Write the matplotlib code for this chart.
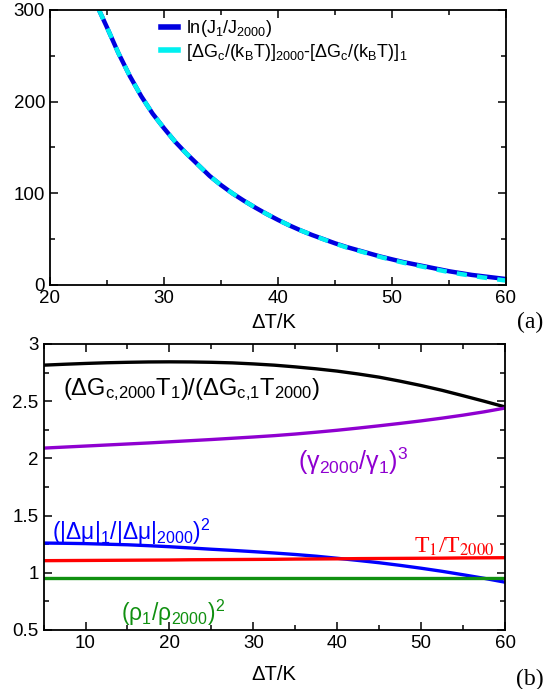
import numpy as np
import matplotlib
matplotlib.use('Agg')
import matplotlib.pyplot as plt
from matplotlib.lines import Line2D
from matplotlib.ticker import MultipleLocator

plt.rcParams['font.family'] = ['Liberation Sans', 'DejaVu Sans']
plt.rcParams['mathtext.fontset'] = 'custom'
plt.rcParams['mathtext.rm'] = 'Liberation Sans'
plt.rcParams['mathtext.it'] = 'Liberation Sans:italic'
plt.rcParams['mathtext.default'] = 'rm'

# panel (a): ln(J1/J2000) and free-energy difference vs undercooling
dT_a = [24.3, 25, 26, 27, 28, 29, 30, 31, 32, 33, 34, 35, 36, 37, 38, 39, 40,
        41, 42, 43, 44, 45, 46, 47, 48, 49, 50, 51, 52, 53, 54, 55, 56, 57, 58, 59, 60]
lnJ = [300, 281, 253, 228, 206, 187, 171, 156, 143, 131, 119, 109, 100, 92, 84.5, 77.5, 71,
       65, 59.5, 54.5, 50, 45.5, 41.5, 38, 34.5, 31, 28, 25, 22.5, 20, 17.5, 15, 13, 11, 9.5, 8, 6.5]
dG_diff = [300, 281, 253, 228, 206, 187, 171, 156, 143, 131, 119, 109, 100, 92, 84.5, 77.5, 71,
           65, 59.5, 54.5, 49.8, 45.2, 41, 37.5, 34, 30.5, 27.3, 24.3, 21.7, 19.2, 16.6, 14.1, 12, 10, 8.2, 6.5, 4.8]

# panel (b): ratios vs undercooling
dT_b = [5, 7.5, 10, 12.5, 15, 17.5, 20, 22.5, 25, 27.5, 30, 32.5, 35, 37.5, 40,
        42.5, 45, 47.5, 50, 52.5, 55, 57.5, 60]
ratio_G = [2.815, 2.823, 2.83, 2.836, 2.84, 2.843, 2.844, 2.843, 2.84, 2.835, 2.826, 2.815,
           2.80, 2.783, 2.763, 2.738, 2.71, 2.675, 2.637, 2.595, 2.548, 2.50, 2.45]
ratio_gamma = [2.09, 2.099, 2.108, 2.117, 2.126, 2.135, 2.145, 2.155, 2.165, 2.176, 2.187, 2.199,
               2.213, 2.229, 2.246, 2.265, 2.285, 2.306, 2.328, 2.352, 2.378, 2.407, 2.44]
ratio_mu = [1.26, 1.258, 1.255, 1.25, 1.245, 1.237, 1.228, 1.217, 1.206, 1.196, 1.185, 1.173,
            1.16, 1.145, 1.127, 1.108, 1.088, 1.065, 1.04, 1.013, 0.983, 0.952, 0.918]
ratio_T = [1.106, 1.107, 1.108, 1.109, 1.11, 1.111, 1.112, 1.114, 1.115, 1.116, 1.117, 1.118,
           1.12, 1.121, 1.122, 1.124, 1.125, 1.126, 1.127, 1.128, 1.13, 1.131, 1.132]
ratio_rho = [0.957] * len(dT_b)

fig = plt.figure(figsize=(5.48, 6.89), dpi=100)
ax1 = fig.add_axes([50/548, 1-285/689, 456/548, 275/689])
ax2 = fig.add_axes([43.6/548, 1-630/689, 461.4/548, 286/689])


def style_axes(ax):
    ax.tick_params(which='both', direction='in', top=True, right=True,
                   labelsize=13.5, width=1.1)
    ax.tick_params(which='major', length=6)
    ax.tick_params(which='minor', length=3.5)
    for sp in ax.spines.values():
        sp.set_linewidth(1.3)


ax1.plot(dT_a, lnJ, color='#0000e0', lw=3.2, solid_capstyle='butt')
ax1.plot(dT_a, dG_diff, color='#00f0f0', lw=3.2, dashes=(2.3, 2.3))
ax1.set_xlim(20, 60)
ax1.set_ylim(0, 300)
ax1.xaxis.set_major_locator(MultipleLocator(10))
ax1.xaxis.set_minor_locator(MultipleLocator(5))
ax1.yaxis.set_major_locator(MultipleLocator(100))
ax1.yaxis.set_minor_locator(MultipleLocator(50))
style_axes(ax1)
handles = [Line2D([], [], color='#0000e0', lw=4), Line2D([], [], color='#00f0f0', lw=4)]
labels = [r'ln(J$_1$/J$_{2000}$)',
          r'[ΔG$_c$/(k$_B$T)]$_{2000}$-[ΔG$_c$/(k$_B$T)]$_1$']
ax1.legend(handles, labels, loc='upper left', bbox_to_anchor=(161/548, 1-18/689),
           bbox_transform=fig.transFigure, frameon=False, fontsize=13,
           handlelength=0.95, handletextpad=0.45, borderpad=0, borderaxespad=0,
           labelspacing=0.15)

ax2.plot(dT_b, ratio_G, color='black', lw=2.4)
ax2.plot(dT_b, ratio_gamma, color='#8f00d0', lw=2.4)
ax2.plot(dT_b, ratio_mu, color='#0000ff', lw=2.4)
ax2.plot(dT_b, ratio_T, color='#ff0000', lw=2.4)
ax2.plot(dT_b, ratio_rho, color='#109010', lw=2.4)
ax2.set_xlim(5, 60)
ax2.set_ylim(0.5, 3)
ax2.xaxis.set_major_locator(MultipleLocator(10))
ax2.xaxis.set_minor_locator(MultipleLocator(5))
ax2.yaxis.set_minor_locator(MultipleLocator(0.25))
ax2.set_yticks([0.5, 1, 1.5, 2, 2.5, 3])
ax2.set_yticklabels(['0.5', '1', '1.5', '2', '2.5', '3'])
style_axes(ax2)

ax2.text(7.3, 2.555, r'(ΔG$_{\mathrm{c{,}2000}}$T$_1$)/(ΔG$_{\mathrm{c{,}1}}$T$_{2000}$)',
         color='black', fontsize=17, va='baseline')
ax2.text(35.3, 1.90, r'(γ$_{2000}$/γ$_1$)$^3$', color='#8f00d0', fontsize=18, va='baseline')
ax2.text(6.0, 1.287, r'(|Δμ|$_1$/|Δμ|$_{2000}$)$^2$', color='#0000ff', fontsize=16.5,
         va='baseline')
ax2.text(49.2, 1.18, r'T$_1$/T$_{2000}$', color='#ff0000', fontsize=17, va='baseline',
         family='Liberation Serif', math_fontfamily='stix')
ax2.text(14.2, 0.583, r'(ρ$_1$/ρ$_{2000}$)$^2$', color='#109010', fontsize=16.5,
         va='baseline')

fig.text(274/548, 1-322/689, 'ΔT/K', fontsize=14.5, ha='center', va='center')
fig.text(274/548, 1-675/689, 'ΔT/K', fontsize=14.5, ha='center', va='center')
fig.text(530/548, 1-322/689, '(a)', fontsize=17, ha='center', va='center',
         family='Liberation Serif')
fig.text(530/548, 1-679/689, '(b)', fontsize=17, ha='center', va='center',
         family='Liberation Serif')

fig.savefig('out.png', dpi=100)
